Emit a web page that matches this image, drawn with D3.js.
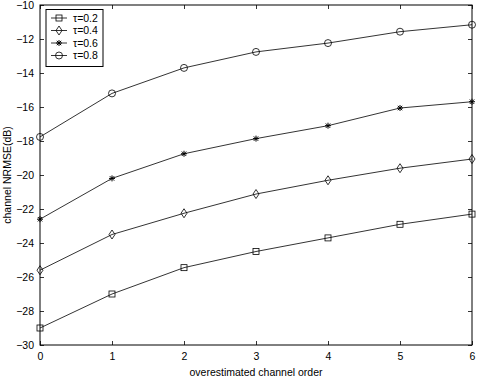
<!DOCTYPE html>
<html>
<head>
<meta charset="utf-8">
<script src="https://cdn.jsdelivr.net/npm/d3@7"></script>
<style>
  html, body { margin: 0; padding: 0; background: #fff; }
  svg { display: block; font-family: "Liberation Sans", Arial, sans-serif; }
</style>
</head>
<body>
<div id="chart"></div>
<script>
// --- Data ---
const xValues = [0, 1, 2, 3, 4, 5, 6];
const tau02 = [-29.0, -27.0, -25.45, -24.5, -23.7, -22.9, -22.3];
const tau04 = [-25.6, -23.5, -22.25, -21.12, -20.31, -19.6, -19.06];
const tau06 = [-22.6, -20.2, -18.75, -17.86, -17.1, -16.06, -15.69];
const tau08 = [-17.76, -15.2, -13.7, -12.76, -12.24, -11.57, -11.16];
const seriesNames = ['\u03c4=0.2', '\u03c4=0.4', '\u03c4=0.6', '\u03c4=0.8'];
const seriesMarkers = ['square', 'diamond', 'star', 'circle'];
const xTicks = [0, 1, 2, 3, 4, 5, 6];
const yTicks = [-30, -28, -26, -24, -22, -20, -18, -16, -14, -12, -10];

const W = 477, H = 383;
const margin = { top: 5, right: 5, bottom: 38, left: 40 };
const pw = W - margin.left - margin.right;
const ph = H - margin.top - margin.bottom;

const svg = d3.select('#chart').append('svg').attr('width', W).attr('height', H);
const g = svg.append('g').attr('transform', `translate(${margin.left},${margin.top})`);

const x = d3.scaleLinear().domain([0, 6]).range([0, pw]);
const y = d3.scaleLinear().domain([-30, -10]).range([ph, 0]);

// axes with inward ticks, box style
const tickLen = 4;
function styleAxis(sel) {
  sel.selectAll('.domain').remove();
  sel.selectAll('.tick line').attr('stroke', '#000').attr('stroke-width', 0.8);
  sel.selectAll('text').attr('fill', '#000').style('font-size', '10.5px');
}
g.append('g').attr('transform', `translate(0,${ph})`)
  .call(d3.axisBottom(x).tickValues(xTicks).tickSize(-tickLen).tickPadding(8).tickFormat(d3.format('d')))
  .call(styleAxis);
g.append('g')
  .call(d3.axisTop(x).tickValues(xTicks).tickSize(-tickLen).tickFormat(''))
  .call(styleAxis);
g.append('g')
  .call(d3.axisLeft(y).tickValues(yTicks).tickSize(-tickLen).tickPadding(6).tickFormat(d => '\u2212' + Math.abs(d)))
  .call(styleAxis);
g.append('g').attr('transform', `translate(${pw},0)`)
  .call(d3.axisRight(y).tickValues(yTicks).tickSize(-tickLen).tickFormat(''))
  .call(styleAxis);

g.append('rect').attr('width', pw).attr('height', ph)
  .attr('fill', 'none').attr('stroke', '#000').attr('stroke-width', 1);

// markers
function drawMarker(sel, type) {
  if (type === 'square') {
    sel.append('rect').attr('x', -3).attr('y', -3).attr('width', 6).attr('height', 6)
      .attr('fill', 'none').attr('stroke', '#000').attr('stroke-width', 0.8);
  } else if (type === 'diamond') {
    sel.append('path').attr('d', 'M0,-4.5L3,0L0,4.5L-3,0Z')
      .attr('fill', 'none').attr('stroke', '#000').attr('stroke-width', 0.8);
  } else if (type === 'star') {
    sel.append('path').attr('d', 'M-3,0H3M0,-3V3M-2.2,-2.2L2.2,2.2M-2.2,2.2L2.2,-2.2')
      .attr('stroke', '#000').attr('stroke-width', 1);
  } else {
    sel.append('circle').attr('r', 3.5)
      .attr('fill', 'none').attr('stroke', '#000').attr('stroke-width', 0.8);
  }
}

const allSeries = [tau02, tau04, tau06, tau08];
const line = d3.line().x((d, i) => x(xValues[i])).y(d => y(d));

allSeries.forEach((vals, si) => {
  g.append('path').datum(vals).attr('d', line)
    .attr('fill', 'none').attr('stroke', '#000').attr('stroke-width', 0.8);
  vals.forEach((v, i) => {
    const m = g.append('g').attr('transform', `translate(${x(xValues[i])},${y(v)})`);
    drawMarker(m, seriesMarkers[si]);
  });
});

// legend
const leg = svg.append('g').attr('transform', 'translate(46,9.5)');
leg.append('rect').attr('width', 57).attr('height', 57)
  .attr('fill', '#fff').attr('stroke', '#000').attr('stroke-width', 1);
const legY = [8.5, 21, 33.5, 46];
seriesNames.forEach((name, i) => {
  const row = leg.append('g').attr('transform', `translate(0,${legY[i]})`);
  row.append('line').attr('x1', 5).attr('x2', 21).attr('stroke', '#000').attr('stroke-width', 0.8);
  const m = row.append('g').attr('transform', 'translate(13,0)');
  drawMarker(m, seriesMarkers[i]);
  row.append('text').attr('x', 27).attr('dy', '0.35em').style('font-size', '10.5px').text(name);
});

// axis titles
svg.append('text').attr('x', margin.left + pw / 2).attr('y', 376)
  .attr('text-anchor', 'middle').style('font-size', '10.5px').text('overestimated channel order');
svg.append('text').attr('transform', `translate(11,${margin.top + ph / 2}) rotate(-90)`)
  .attr('text-anchor', 'middle').style('font-size', '10.5px').text('channel NRMSE(dB)');
</script>
</body>
</html>
